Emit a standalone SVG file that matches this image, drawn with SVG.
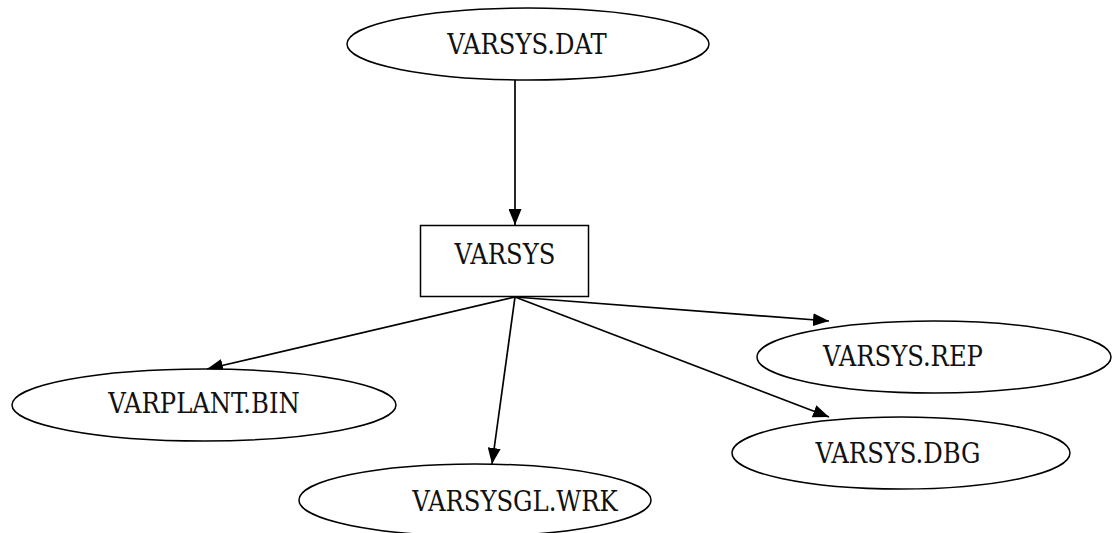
<svg xmlns="http://www.w3.org/2000/svg" width="1113" height="533" viewBox="0 0 1113 533">
<style>
.n{fill:#fff;stroke:#000;stroke-width:1.5}
.t{font-family:"DejaVu Serif Condensed","DejaVu Serif","Liberation Serif",serif;font-stretch:condensed;font-size:27px;fill:#111;text-anchor:middle}
.e{stroke:#000;stroke-width:1.7;fill:none;marker-end:url(#ah)}
</style>
<defs>
<marker id="ah" markerUnits="userSpaceOnUse" markerWidth="17" markerHeight="13" refX="16" refY="6.5" orient="auto">
<path d="M0,0 L16,6.5 L0,13 Z" fill="#000"/>
</marker>
</defs>
<rect width="1113" height="533" fill="#fff"/>
<g id="edges">
<line class="e" x1="515" y1="80" x2="515" y2="225"/>
<line class="e" x1="515" y1="297" x2="207" y2="369"/>
<line class="e" x1="515" y1="297" x2="492" y2="464"/>
<line class="e" x1="515" y1="297" x2="829" y2="321"/>
<line class="e" x1="515" y1="297" x2="829" y2="417"/>
</g>
<g id="varsys_dat">
<ellipse class="n" cx="528" cy="44" rx="181" ry="36"/>
<text class="t" x="527" y="54">VARSYS.DAT</text>
</g>
<g id="varsys">
<rect class="n" x="420.5" y="225.5" width="168" height="71"/>
<text class="t" x="505" y="264">VARSYS</text>
</g>
<g id="varplant_bin">
<ellipse class="n" cx="204" cy="405" rx="192" ry="36"/>
<text class="t" x="204" y="413">VARPLANT.BIN</text>
</g>
<g id="varsys_rep">
<ellipse class="n" cx="934" cy="357" rx="177" ry="36"/>
<text class="t" x="903" y="366">VARSYS.REP</text>
</g>
<g id="varsys_dbg">
<ellipse class="n" cx="901" cy="453" rx="169" ry="36"/>
<text class="t" x="898" y="463">VARSYS.DBG</text>
</g>
<g id="varsysgl_wrk">
<ellipse class="n" cx="475" cy="500" rx="176" ry="36"/>
<text class="t" x="515" y="511">VARSYSGL.WRK</text>
</g>
</svg>
